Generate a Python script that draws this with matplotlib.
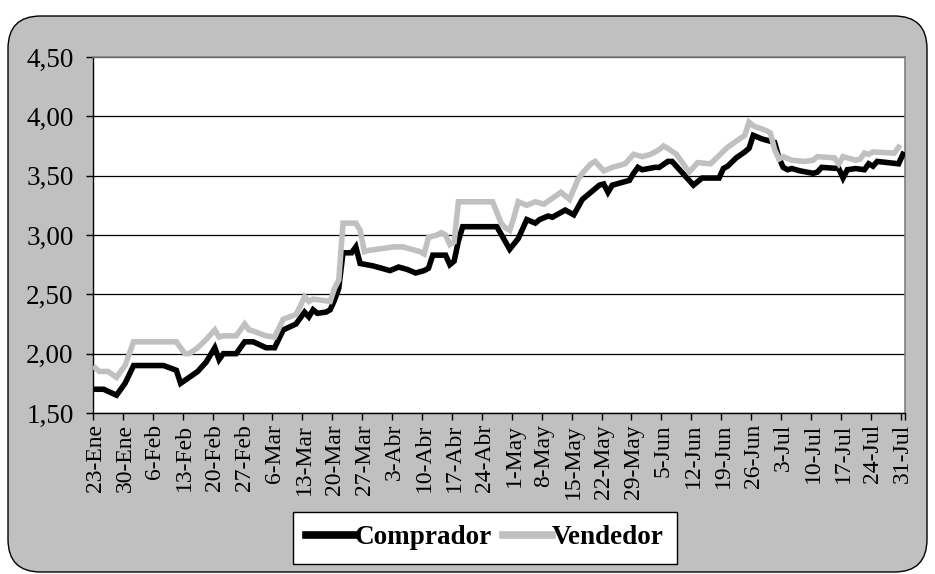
import matplotlib
matplotlib.use("Agg")
import matplotlib.pyplot as plt
from matplotlib.patches import FancyBboxPatch
from matplotlib.ticker import FuncFormatter
import pandas as pd

# ---- data ----
comprador_dates = [
    "2002-01-23", "2002-01-25", "2002-01-28", "2002-01-30", "2002-02-01", "2002-02-08",
    "2002-02-11", "2002-02-12", "2002-02-14", "2002-02-16", "2002-02-18", "2002-02-20",
    "2002-02-21", "2002-02-22", "2002-02-25", "2002-02-27", "2002-03-01", "2002-03-04",
    "2002-03-06", "2002-03-08", "2002-03-11", "2002-03-13", "2002-03-14", "2002-03-15",
    "2002-03-16", "2002-03-18", "2002-03-19", "2002-03-20", "2002-03-21", "2002-03-22",
    "2002-03-24", "2002-03-25", "2002-03-26", "2002-03-29", "2002-04-02", "2002-04-04",
    "2002-04-06", "2002-04-08", "2002-04-10", "2002-04-11", "2002-04-12", "2002-04-15",
    "2002-04-16", "2002-04-17", "2002-04-18", "2002-04-19", "2002-04-27", "2002-04-30",
    "2002-05-02", "2002-05-04", "2002-05-06", "2002-05-07", "2002-05-09", "2002-05-10",
    "2002-05-12", "2002-05-13", "2002-05-15", "2002-05-17", "2002-05-19", "2002-05-21",
    "2002-05-22", "2002-05-23", "2002-05-24", "2002-05-26", "2002-05-28", "2002-05-29",
    "2002-05-30", "2002-05-31", "2002-06-03", "2002-06-04", "2002-06-06", "2002-06-07",
    "2002-06-08", "2002-06-12", "2002-06-13", "2002-06-14", "2002-06-18", "2002-06-19",
    "2002-06-20", "2002-06-22", "2002-06-24", "2002-06-25", "2002-06-26", "2002-06-28",
    "2002-07-01", "2002-07-02", "2002-07-03", "2002-07-04", "2002-07-05", "2002-07-07",
    "2002-07-10", "2002-07-11", "2002-07-12", "2002-07-16", "2002-07-17", "2002-07-18",
    "2002-07-20", "2002-07-22", "2002-07-23", "2002-07-24", "2002-07-25", "2002-07-30",
    "2002-07-31",
]
comprador = [
    1.70, 1.70, 1.65, 1.75, 1.90, 1.90,
    1.86, 1.75, 1.80, 1.85, 1.93, 2.05,
    1.95, 2.00, 2.00, 2.10, 2.10, 2.05,
    2.05, 2.20, 2.25, 2.35, 2.31, 2.37,
    2.34, 2.35, 2.37, 2.45, 2.55, 2.85,
    2.85, 2.90, 2.76, 2.74, 2.70, 2.73,
    2.71, 2.68, 2.70, 2.72, 2.83, 2.83,
    2.75, 2.78, 2.95, 3.07, 3.07, 2.88,
    2.97, 3.13, 3.10, 3.13, 3.16, 3.15,
    3.19, 3.21, 3.17, 3.30, 3.36, 3.42,
    3.43, 3.36, 3.42, 3.44, 3.46, 3.52,
    3.57, 3.55, 3.57, 3.57, 3.62, 3.62,
    3.58, 3.42, 3.45, 3.48, 3.48, 3.56,
    3.58, 3.65, 3.70, 3.73, 3.84, 3.81,
    3.78, 3.65, 3.57, 3.55, 3.56, 3.54,
    3.52, 3.53, 3.57, 3.56, 3.48, 3.55,
    3.56, 3.55, 3.60, 3.58, 3.62, 3.60,
    3.68,
]

vendedor_dates = [
    "2002-01-23", "2002-01-24", "2002-01-26", "2002-01-28", "2002-01-30", "2002-02-01",
    "2002-02-11", "2002-02-13", "2002-02-14", "2002-02-16", "2002-02-18", "2002-02-20",
    "2002-02-21", "2002-02-22", "2002-02-25", "2002-02-27", "2002-02-28", "2002-03-01",
    "2002-03-04", "2002-03-06", "2002-03-08", "2002-03-11", "2002-03-12", "2002-03-13",
    "2002-03-14", "2002-03-15", "2002-03-17", "2002-03-19", "2002-03-20", "2002-03-21",
    "2002-03-22", "2002-03-25", "2002-03-26", "2002-03-27", "2002-03-28", "2002-04-01",
    "2002-04-03", "2002-04-05", "2002-04-07", "2002-04-09", "2002-04-10", "2002-04-11",
    "2002-04-13", "2002-04-14", "2002-04-15", "2002-04-16", "2002-04-17", "2002-04-18",
    "2002-04-26", "2002-04-28", "2002-04-29", "2002-04-30", "2002-05-01", "2002-05-02",
    "2002-05-04", "2002-05-06", "2002-05-08", "2002-05-10", "2002-05-12", "2002-05-14",
    "2002-05-16", "2002-05-17", "2002-05-19", "2002-05-20", "2002-05-22", "2002-05-24",
    "2002-05-27", "2002-05-29", "2002-05-31", "2002-06-02", "2002-06-04", "2002-06-05",
    "2002-06-06", "2002-06-08", "2002-06-11", "2002-06-13", "2002-06-16", "2002-06-18",
    "2002-06-20", "2002-06-22", "2002-06-24", "2002-06-25", "2002-06-26", "2002-06-29",
    "2002-06-30", "2002-07-01", "2002-07-02", "2002-07-03", "2002-07-05", "2002-07-08",
    "2002-07-10", "2002-07-11", "2002-07-15", "2002-07-16", "2002-07-17", "2002-07-20",
    "2002-07-21", "2002-07-22", "2002-07-23", "2002-07-24", "2002-07-29", "2002-07-30",
]
vendedor = [
    1.88, 1.85, 1.85, 1.80, 1.90, 2.10,
    2.10, 2.00, 2.00, 2.05, 2.12, 2.20,
    2.14, 2.15, 2.15, 2.25, 2.20, 2.19,
    2.15, 2.14, 2.29, 2.33, 2.40, 2.48,
    2.44, 2.46, 2.45, 2.44, 2.55, 2.62,
    3.10, 3.10, 3.04, 2.86, 2.87, 2.89,
    2.90, 2.90, 2.88, 2.86, 2.84, 2.98,
    3.00, 3.02, 3.00, 2.92, 2.94, 3.28,
    3.28, 3.10, 3.06, 3.04, 3.15, 3.28,
    3.25, 3.28, 3.26, 3.31, 3.36, 3.30,
    3.47, 3.52, 3.60, 3.62, 3.54, 3.57,
    3.60, 3.68, 3.66, 3.68, 3.72, 3.75,
    3.73, 3.68, 3.53, 3.61, 3.60, 3.67,
    3.74, 3.79, 3.84, 3.95, 3.92, 3.88,
    3.86, 3.72, 3.64, 3.66, 3.63, 3.62,
    3.63, 3.66, 3.65, 3.60, 3.66, 3.63,
    3.64, 3.69, 3.68, 3.70, 3.69, 3.74,
]

tick_labels = [
    "23-Ene", "30-Ene", "6-Feb", "13-Feb", "20-Feb", "27-Feb", "6-Mar", "13-Mar",
    "20-Mar", "27-Mar", "3-Abr", "10-Abr", "17-Abr", "24-Abr", "1-May", "8-May",
    "15-May", "22-May", "29-May", "5-Jun", "12-Jun", "19-Jun", "26-Jun", "3-Jul",
    "10-Jul", "17-Jul", "24-Jul", "31-Jul",
]
y_ticks = [1.5, 2.0, 2.5, 3.0, 3.5, 4.0, 4.5]

# ---- figure ----
plt.rcParams["font.family"] = ["Liberation Serif", "DejaVu Serif"]
fig = plt.figure(figsize=(9.35, 5.74), dpi=100)
fig.patch.set_facecolor("white")

bg = FancyBboxPatch((8 / 935, 2 / 574), 919 / 935, 556 / 574,
                    boxstyle="round,pad=0,rounding_size=0.035",
                    transform=fig.transFigure, facecolor="#C0C0C0",
                    edgecolor="black", linewidth=1.0, zorder=-10,
                    mutation_aspect=935 / 574)
fig.patches.append(bg)

ax = fig.add_axes([93 / 935, 1 - 413 / 574, (905 - 93) / 935, (413 - 57) / 574])
ax.set_zorder(1)
ax.set_facecolor("white")

cd = pd.to_datetime(comprador_dates)
vd = pd.to_datetime(vendedor_dates)
ax.plot(cd, comprador, color="black", linewidth=4.0, solid_joinstyle="miter",
        label="Comprador", zorder=3)
ax.plot(vd, vendedor, color="#C0C0C0", linewidth=4.0, solid_joinstyle="miter",
        label="Vendedor", zorder=4)

start = pd.Timestamp("2002-01-23")
end = pd.Timestamp("2002-07-31")
half = pd.Timedelta(hours=12)
ax.set_xlim(start - half, end + half)
ax.set_ylim(1.5, 4.5)

tick_dates = [start + pd.Timedelta(days=7 * i) for i in range(len(tick_labels))]
ax.set_xticks([d - half for d in tick_dates] + [end + half])
ax.set_xticklabels([])
ax.set_xticks(tick_dates, minor=True)
ax.set_xticklabels(tick_labels, minor=True, rotation=90, fontsize=17)
ax.tick_params(axis="x", which="major", length=5, width=1, color="black", direction="out")
ax.tick_params(axis="x", which="minor", length=0, pad=8)

ax.set_yticks(y_ticks)
ax.yaxis.set_major_formatter(FuncFormatter(lambda v, p: f"{v:.2f}".replace(".", ",")))
ax.tick_params(axis="y", length=5, width=1, direction="out", labelsize=19.5, pad=9)

ax.grid(axis="y", color="black", linewidth=0.9)
ax.set_axisbelow(True)
for side in ("top", "right"):
    ax.spines[side].set_color("#808080")
    ax.spines[side].set_linewidth(1.2)
for side in ("left", "bottom"):
    ax.spines[side].set_color("black")
    ax.spines[side].set_linewidth(1.0)

leg = fig.legend(loc="center", bbox_to_anchor=(485 / 935, 1 - 538 / 574), ncol=2,
                 frameon=True, fancybox=False, edgecolor="black", framealpha=1,
                 prop={"weight": "bold", "size": 19.5}, handlelength=1.8,
                 handletextpad=0.0, columnspacing=0.4, borderpad=0.5,
                 borderaxespad=0)
leg.get_frame().set_linewidth(1.0)
for h in leg.get_lines():
    h.set_linewidth(5.5)

fig.savefig("out.png", dpi=100, facecolor="white")
